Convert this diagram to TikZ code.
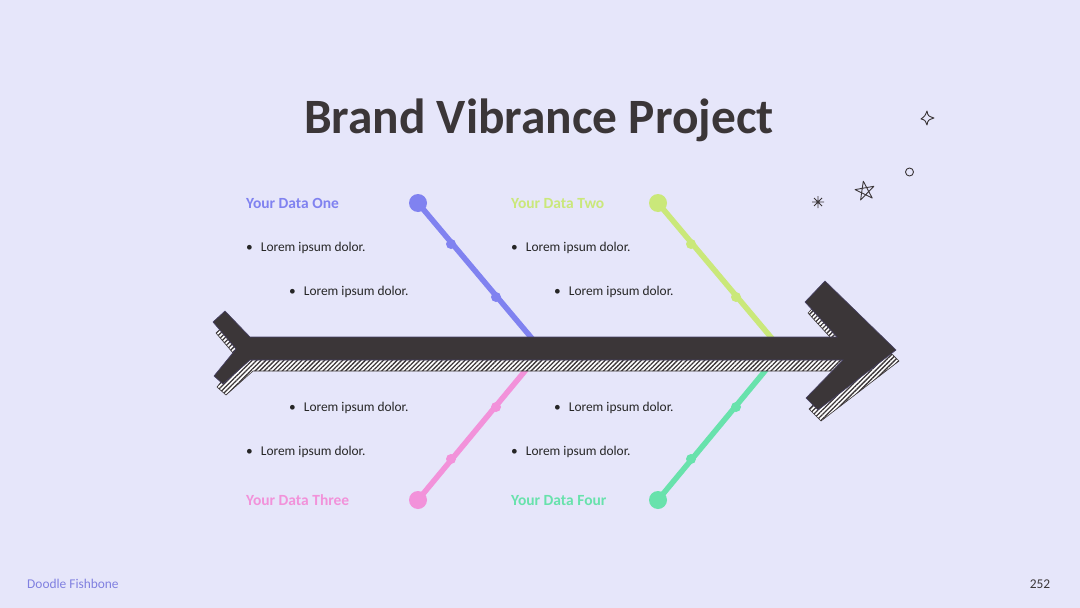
\documentclass[tikz,border=0pt]{standalone}
\usepackage{fontspec}
\setmainfont{Carlito}
\usetikzlibrary{patterns.meta}
\definecolor{bg}{RGB}{230,230,250}
\definecolor{ink}{RGB}{59,54,56}
\definecolor{edge}{RGB}{70,64,100}
\definecolor{cblue}{RGB}{128,130,240}
\definecolor{cgreen}{RGB}{202,232,122}
\definecolor{cpink}{RGB}{242,146,218}
\definecolor{cteal}{RGB}{104,226,172}
\definecolor{cfoot}{RGB}{128,128,224}
\tikzset{
  bone/.style={line width=5.5pt},
  bigdot/.style={circle,fill,inner sep=0pt,minimum size=18pt},
  smalldot/.style={circle,fill,inner sep=0pt,minimum size=10pt},
  head/.style={font=\bfseries\fontsize{15.5}{18}\selectfont,anchor=base west,inner sep=0pt},
  item/.style={font=\fontsize{13.4}{15}\selectfont,text=black!85,anchor=base west,inner sep=0pt},
  doodle/.style={draw=ink,line width=0.9pt,line join=round}
}
\begin{document}
\begin{tikzpicture}[x=1pt,y=-1pt]
\fill[bg] (0,0) rectangle (1080,608);
\useasboundingbox (0,0) rectangle (1080,608);

% title
\node[font=\bfseries\fontsize{49.4}{56}\selectfont,text=ink,anchor=base,inner sep=0pt] (title) at (539,133.5) {Brand Vibrance Project};

% bones
\node[bigdot,cblue] (b1) at (418,203) {};
\node[smalldot,cblue] (b1a) at (451,244) {};
\node[smalldot,cblue] (b1b) at (496,297) {};
\coordinate (e1) at (540,348);
\draw[bone,cblue] (b1.center) -- (e1);

\node[bigdot,cgreen] (b2) at (658,203) {};
\node[smalldot,cgreen] (b2a) at (691,244) {};
\node[smalldot,cgreen] (b2b) at (736,297) {};
\coordinate (e2) at (780,348);
\draw[bone,cgreen] (b2.center) -- (e2);

\node[bigdot,cpink] (b3) at (418,500) {};
\node[smalldot,cpink] (b3a) at (451,459) {};
\node[smalldot,cpink] (b3b) at (496,407) {};
\coordinate (e3) at (544,348);
\draw[bone,cpink] (b3.center) -- (e3);

\node[bigdot,cteal] (b4) at (658,500) {};
\node[smalldot,cteal] (b4a) at (691,459) {};
\node[smalldot,cteal] (b4b) at (736,407) {};
\coordinate (e4) at (784,348);
\draw[bone,cteal] (b4.center) -- (e4);

% arrow shadow
\begin{scope}[shift={(3,11)}]
\path[fill=white] (225,311) -- (250,337) -- (837,337) -- (805,302) -- (825,281) -- (896,350) -- (818,410) -- (806,398) -- (843,360) -- (250,360) -- (223,384) -- (214,376) -- (236,349) -- (213,322) -- cycle;
\path[pattern={Lines[angle=45,distance=3.2pt,line width=1.3pt]},pattern color=ink] (225,311) -- (250,337) -- (837,337) -- (805,302) -- (825,281) -- (896,350) -- (818,410) -- (806,398) -- (843,360) -- (250,360) -- (223,384) -- (214,376) -- (236,349) -- (213,322) -- cycle;
\draw[ink,line width=0.6pt] (225,311) -- (250,337) -- (837,337) -- (805,302) -- (825,281) -- (896,350) -- (818,410) -- (806,398) -- (843,360) -- (250,360) -- (223,384) -- (214,376) -- (236,349) -- (213,322) -- cycle;
\end{scope}
% arrow
\draw[fill=ink,draw=edge,line width=0.6pt] (225,311) -- (250,337) -- (837,337) -- (805,302) -- (825,281) -- (896,350) -- (818,410) -- (806,398) -- (843,360) -- (250,360) -- (223,384) -- (214,376) -- (236,349) -- (213,322) -- cycle;

% labels
\node[head,text=cblue] (h1) at (246,208) {Your Data One};
\node[item] (t1a) at (246,251.5) {•\hspace{8pt}Lorem ipsum dolor.};
\node[item] (t1b) at (289,295.5) {•\hspace{8pt}Lorem ipsum dolor.};

\node[head,text=cgreen] (h2) at (511,208) {Your Data Two};
\node[item] (t2a) at (511,251.5) {•\hspace{8pt}Lorem ipsum dolor.};
\node[item] (t2b) at (554,295.5) {•\hspace{8pt}Lorem ipsum dolor.};

\node[item] (t3b) at (289,411.5) {•\hspace{8pt}Lorem ipsum dolor.};
\node[item] (t3a) at (246,455.5) {•\hspace{8pt}Lorem ipsum dolor.};
\node[head,text=cpink] (h3) at (246,505) {Your Data Three};

\node[item] (t4b) at (554,411.5) {•\hspace{8pt}Lorem ipsum dolor.};
\node[item] (t4a) at (511,455.5) {•\hspace{8pt}Lorem ipsum dolor.};
\node[head,text=cteal] (h4) at (511,505) {Your Data Four};

% footer
\node[font=\fontsize{13.4}{15}\selectfont,text=cfoot,anchor=base west,inner sep=0pt] (foot) at (27,588.5) {Doodle Fishbone};
\node[font=\fontsize{13.4}{15}\selectfont,text=ink,anchor=base,inner sep=0pt] (page) at (1040,588.5) {252};

% doodles
\draw[doodle] (927,111) .. controls (928,116) .. (934,118) .. controls (928,120) .. (927,125) .. controls (925,120) .. (921,119) .. controls (925,116) .. (927,111) -- cycle;
\draw[doodle] (909.5,172) circle (4pt);
\draw[doodle] (863.3,181.2) -- (872.2,198.0) -- (855.1,189.6) -- (873.8,186.3) -- (860.6,200.0) -- cycle;
\draw[doodle] (812,202) -- (824,202) (818,196) -- (818,208) (814,198) -- (822,206) (822,198) -- (814,206);
\end{tikzpicture}
\end{document}
